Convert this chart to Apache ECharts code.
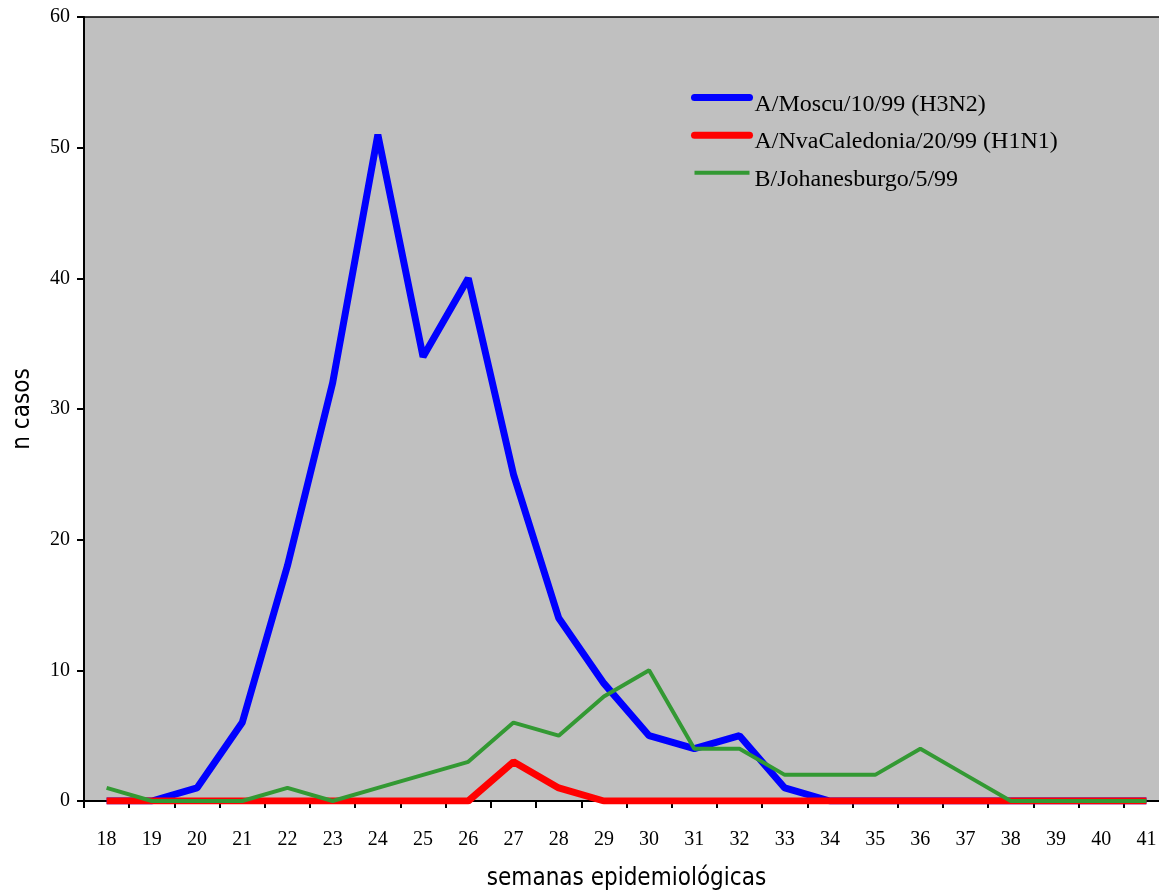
<!DOCTYPE html>
<html>
<head>
<meta charset="utf-8">
<script src="https://cdn.jsdelivr.net/npm/echarts@6/dist/echarts.min.js"></script>
<style>html,body{margin:0;padding:0;background:#fff;}#c{width:1159px;height:890px;}</style>
</head>
<body>
<div id="c"></div>
<script>
const weeks = ['18','19','20','21','22','23','24','25','26','27','28','29','30','31','32','33','34','35','36','37','38','39','40','41'];
const moscu = [0,0,1,6,18,32,51,34,40,25,14,9,5,4,5,1,0,0,0,0,0,0,0,0];
const caledonia = [0,0,0,0,0,0,0,0,0,3,1,0,0,0,0,0,0,0,0,0,0,0,0,0];
const johanesburgo = [1,0,0,0,1,0,1,2,3,6,5,8,10,4,4,2,2,2,4,2,0,0,0,0];
const seriesNames = ['A/Moscu/10/99 (H3N2)','A/NvaCaledonia/20/99 (H1N1)','B/Johanesburgo/5/99'];
const yTicks = [0,10,20,30,40,50,60];

const serif = '"Liberation Serif", "Times New Roman", serif';
const narrow = '"DejaVu Sans Condensed", "Liberation Sans", sans-serif';
const chart = echarts.init(document.getElementById('c'));
chart.setOption({
  animation: false,
  backgroundColor: '#ffffff',
  grid: {left: 84, top: 17, width: 1085, height: 784, outerBoundsMode: 'none', containLabel: false,
    show: true, backgroundColor: '#C0C0C0', borderColor: '#000', borderWidth: 1.5},
  legend: {
    orient: 'vertical', left: 691, top: 92, padding: 0, itemWidth: 55, itemHeight: 14, itemGap: 13,
    itemStyle: {opacity: 0},
    formatter: n => '{t|' + n + '}',
    textStyle: {fontFamily: serif, fontSize: 24, color: '#000',
      rich: {t: {fontFamily: serif, fontSize: 24, color: '#000', padding: [14, 0, 0, 0]}}},
    data: [
      {name: seriesNames[0], lineStyle: {width: 7, cap: 'round'}},
      {name: seriesNames[1], lineStyle: {width: 7, cap: 'round'}},
      {name: seriesNames[2], lineStyle: {width: 4}}
    ]
  },
  xAxis: {
    type: 'category', data: weeks, boundaryGap: true,
    name: 'semanas epidemiológicas', nameLocation: 'middle', nameGap: 66, nameMoveOverlap: false,
    nameTextStyle: {fontFamily: narrow, fontSize: 24, color: '#000'},
    axisLine: {lineStyle: {color: '#000', width: 2}},
    axisTick: {show: true, length: 7, lineStyle: {color: '#000', width: 2}},
    axisLabel: {fontFamily: serif, fontSize: 20, color: '#000', margin: 29, interval: 0},
    splitLine: {show: false}
  },
  yAxis: {
    type: 'value', min: 0, max: 60, interval: 10,
    name: 'n casos', nameLocation: 'middle', nameGap: 49, nameRotate: 90, nameMoveOverlap: false,
    nameTextStyle: {fontFamily: narrow, fontSize: 24, color: '#000'},
    axisLine: {show: true, lineStyle: {color: '#000', width: 2}},
    axisTick: {show: true, length: 7, lineStyle: {color: '#000', width: 2}},
    axisLabel: {fontFamily: serif, fontSize: 20, color: '#000', margin: 14,
      formatter: v => yTicks.includes(v) ? String(v) : ''},
    splitLine: {show: false}
  },
  series: [
    {name: seriesNames[0], type: 'line', data: moscu, symbol: 'none', lineStyle: {color: '#0000FF', width: 7}, itemStyle: {color: '#0000FF'}},
    {name: seriesNames[1], type: 'line', data: caledonia, symbol: 'none', lineStyle: {color: '#FF0000', width: 7}, itemStyle: {color: '#FF0000'}},
    {name: seriesNames[2], type: 'line', data: johanesburgo, symbol: 'none', lineStyle: {color: '#339933', width: 4}, itemStyle: {color: '#339933'}}
  ]
});
</script>
</body>
</html>
